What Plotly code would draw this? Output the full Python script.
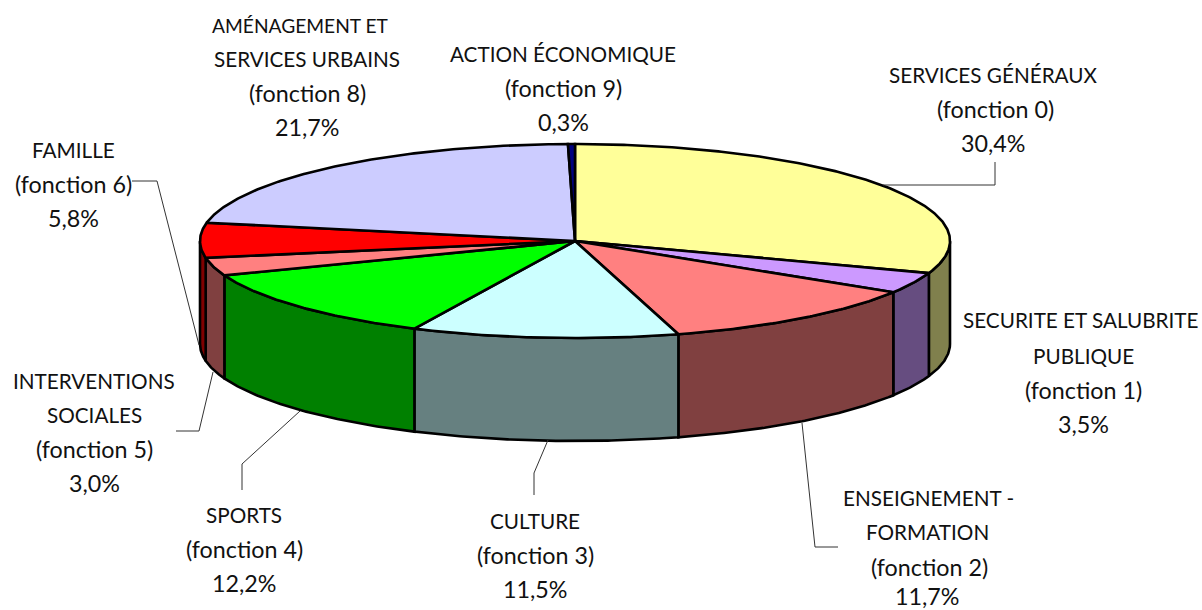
import numpy as np
import plotly.graph_objects as go

# ---- data ----
categories = ["SERVICES GÉNÉRAUX", "SECURITE ET SALUBRITE PUBLIQUE", "ENSEIGNEMENT - FORMATION",
              "CULTURE", "SPORTS", "INTERVENTIONS SOCIALES", "FAMILLE",
              "AMÉNAGEMENT ET SERVICES URBAINS", "ACTION ÉCONOMIQUE"]
values = [30.4, 3.5, 11.7, 11.5, 12.2, 3.0, 5.8, 21.7, 0.3]
top_colors = ["#FFFF99", "#CC99FF", "#FF8080", "#CCFFFF", "#00FF00", "#FF8080", "#FF0000", "#CCCCFF", "#000080"]
side_colors = ["#80804D", "#664D80", "#804040", "#668080", "#008000", "#804040", "#800000", "#666680", "#000040"]

label_lines = [
    ["SERVICES GÉNÉRAUX", "(fonction 0)", "30,4%"],
    ["SECURITE ET SALUBRITE", "PUBLIQUE", "(fonction 1)", "3,5%"],
    ["ENSEIGNEMENT -", "FORMATION", "(fonction 2)", "11,7%"],
    ["CULTURE", "(fonction 3)", "11,5%"],
    ["SPORTS", "(fonction 4)", "12,2%"],
    ["INTERVENTIONS", "SOCIALES", "(fonction 5)", "3,0%"],
    ["FAMILLE", "(fonction 6)", "5,8%"],
    ["AMÉNAGEMENT ET", "SERVICES URBAINS", "(fonction 8)", "21,7%"],
    ["ACTION ÉCONOMIQUE", "(fonction 9)", "0,3%"],
]

# ---- layout constants ----
CX, CY, RX, RY, DEPTH = 575, 241, 375, 97, 103
W, H = 1202, 610
FAMILY = "Lato, Carlito, Calibri, sans-serif"
CAPS_SIZE, LOWER_SIZE = 20.7, 23.3
SIZE_OVERRIDE = {"AMÉNAGEMENT ET": 19.2}

label_pos = [
    [(993, 75), (995, 109), (993, 143)],
    [(1081, 320), (1083, 356), (1083, 390), (1083, 424)],
    [(928, 498), (927, 532), (929, 567), (927, 596)],
    [(535, 521), (535, 555), (535, 589)],
    [(244, 515), (244, 549), (244, 583)],
    [(94, 381), (94, 415), (94, 449), (94, 483)],
    [(73, 150), (73, 184), (73, 218)],
    [(300, 25), (307, 59), (307, 93), (307, 127)],
    [(563, 54), (563, 88), (563, 122)],
]

leaders = [
    [(883, 185), (995, 185), (995, 162)],
    [(802, 423), (815, 547), (838, 547)],
    [(548, 440), (534, 473), (534, 495)],
    [(300, 411), (242, 464), (242, 490)],
    [(213, 372), (199, 431), (176, 431)],
    [(132, 181), (157, 181), (199, 345)],
]


def arc(t0, t1, dy=0.0):
    n = max(2, int(abs(t1 - t0) * 2) + 2)
    t = np.radians(np.linspace(t0, t1, n))
    return CX + RX * np.sin(t), CY + dy - RY * np.cos(t)


edges = np.concatenate([[0.0], np.cumsum(values)]) / sum(values) * 360.0
fig = go.Figure()

# side walls: only the front half of the rim (90..270 degrees) is visible
for i, col in enumerate(side_colors):
    a, b = max(edges[i], 90.0), min(edges[i + 1], 270.0)
    if b <= a:
        continue
    xt, yt = arc(a, b)
    xb, yb = arc(b, a, DEPTH)
    fig.add_trace(go.Scatter(
        x=np.r_[xt, xb, xt[0]], y=np.r_[yt, yb, yt[0]], mode="lines", fill="toself",
        fillcolor=col, line=dict(color="black", width=2.6), hoverinfo="skip", showlegend=False))

# top faces
for i, col in enumerate(top_colors):
    xa, ya = arc(edges[i], edges[i + 1])
    fig.add_trace(go.Scatter(
        x=np.r_[CX, xa, CX], y=np.r_[CY, ya, CY], mode="lines", fill="toself",
        fillcolor=col, line=dict(color="black", width=2.6), name=categories[i],
        hoverinfo="name", showlegend=False))

# leader lines
for pts in leaders:
    xs, ys = zip(*pts)
    fig.add_trace(go.Scatter(x=xs, y=ys, mode="lines", line=dict(color="#333333", width=1),
                             hoverinfo="skip", showlegend=False))

# labels, one annotation per line to reproduce the line spacing
ann = []
for lines, pos in zip(label_lines, label_pos):
    for txt, (x, y) in zip(lines, pos):
        size = CAPS_SIZE if txt.upper() == txt and txt[0].isalpha() else LOWER_SIZE
        size = SIZE_OVERRIDE.get(txt, size)
        ann.append(dict(x=x, y=y, text=txt, showarrow=False, xanchor="center", yanchor="middle",
                        font=dict(family=FAMILY, size=size, color="#111111"), xref="x", yref="y"))

fig.update_layout(
    width=W, height=H, margin=dict(l=0, r=0, t=0, b=0),
    paper_bgcolor="white", plot_bgcolor="white", annotations=ann,
    xaxis=dict(range=[0, W], visible=False, fixedrange=True),
    yaxis=dict(range=[H, 0], visible=False, fixedrange=True),
)
fig.write_html("out.html", config=dict(displayModeBar=False, responsive=False),
               post_script="document.body.style.margin='0';document.body.style.overflow='hidden';")
